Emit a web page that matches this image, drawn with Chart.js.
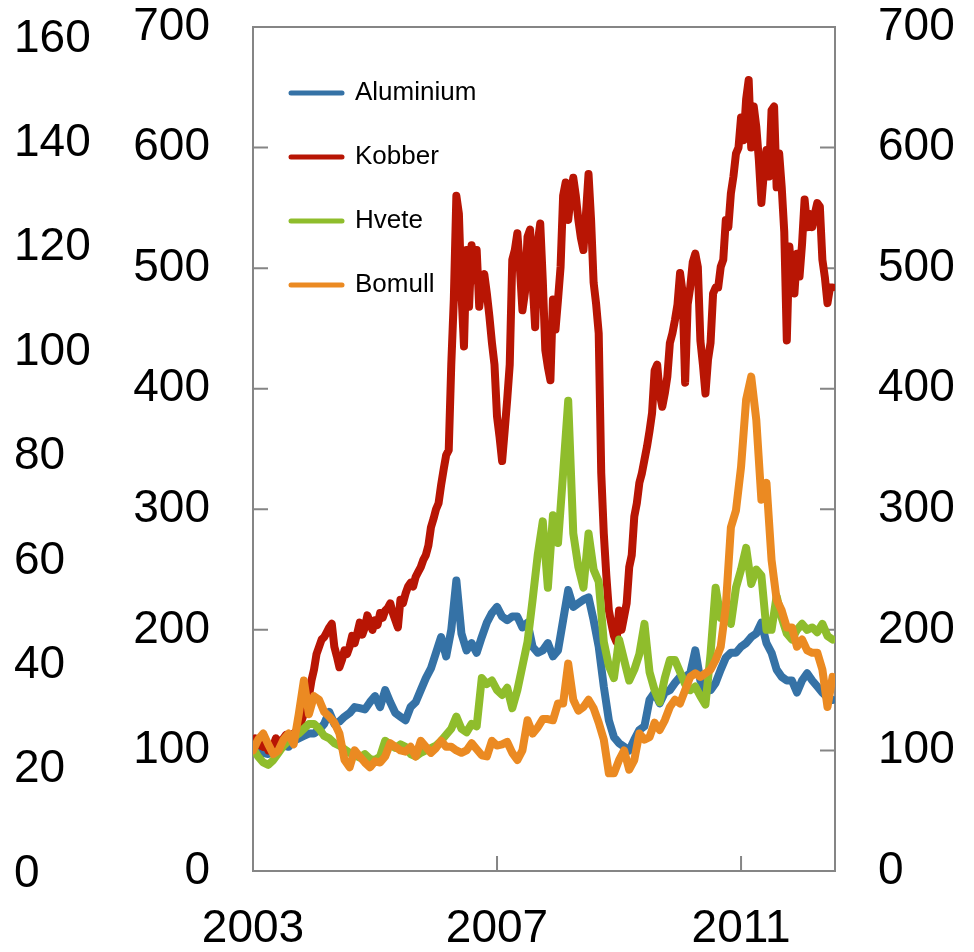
<!DOCTYPE html>
<html>
<head>
<meta charset="utf-8">
<script src="https://cdn.jsdelivr.net/npm/chart.js@4.4.0/dist/chart.umd.min.js"></script>
<style>
html,body{margin:0;padding:0;background:#fff;}
#wrap{width:974px;height:952px;position:relative;}
</style>
</head>
<body>
<div id="wrap"><canvas id="c" width="974" height="952"></canvas></div>
<script>
// ---- data (index, Jan 2003 = 100) ----
const startYear = 2003;
const xMax = 2012.54;
const yearTicks = [2003, 2007, 2011];
const indexTicks = [0, 100, 200, 300, 400, 500, 600, 700];
const outerTicks = [0, 20, 40, 60, 80, 100, 120, 140, 160];
const seriesNames = ['Aluminium', 'Kobber', 'Hvete', 'Bomull'];

// monthly observations
const aluminium = [
100,103,98,97,100,103,104,103,108,110,112,114,
114,117,122,132,122,124,128,131,136,135,134,140,
145,136,150,140,131,128,125,136,140,150,160,168,
181,194,178,200,241,197,183,189,181,194,206,214,
219,211,208,211,211,202,206,186,181,183,189,178,
183,208,233,219,222,225,227,208,186,153,125,111,
106,103,100,109,117,120,142,148,139,148,150,156,
161,161,164,183,158,150,150,156,167,177,181,181,
186,189,194,197,206,189,181,167,161,158,158,148,
158,164,158,153,148,144,142];

// half-monthly observations
const kobber = [
105,110,108,104,103,106,100,104,104,110,108,106,110,113,112,110,114,116,120,124,130,136,145,158,
167,180,186,192,194,198,202,205,186,178,169,175,183,180,186,195,189,197,206,196,202,212,206,200,
208,204,214,210,216,218,222,214,208,202,225,222,230,236,239,236,244,248,252,258,262,270,285,292,
300,305,320,333,345,349,420,474,560,545,480,435,515,468,519,490,515,468,488,495,479,460,438,420,
377,360,340,365,391,420,507,515,529,500,465,480,526,532,488,451,521,537,490,432,418,407,474,449,
474,501,560,571,540,560,575,560,540,525,515,545,578,540,488,470,446,330,280,245,216,205,195,190,
216,200,211,222,252,262,294,305,322,330,341,352,365,380,415,420,396,385,396,410,438,446,457,470,
496,480,405,470,484,505,512,501,440,420,396,424,438,479,484,484,501,507,540,534,562,576,595,600,
625,606,640,656,600,634,617,590,554,580,598,576,631,634,567,595,567,530,440,518,493,479,512,493,
520,557,534,545,534,545,554,551,507,492,471,484,484];

// monthly observations
const hvete = [
102,95,90,88,92,98,104,108,111,114,118,122,
122,118,112,110,106,104,101,98,96,94,97,93,
92,95,108,105,102,105,103,97,95,98,100,102,
104,108,113,118,128,118,115,122,120,160,155,158,
150,146,152,135,150,170,190,225,262,290,235,295,
272,330,390,280,252,235,280,250,240,190,170,160,
192,175,158,167,180,205,165,150,140,160,175,175,
165,155,150,153,145,138,180,235,210,218,205,235,
250,268,238,250,245,200,200,228,210,197,192,200,
205,200,202,198,205,195,192];

// monthly observations
const bomull = [
100,109,114,105,97,100,109,114,105,130,158,130,
145,142,132,128,123,114,92,86,100,95,90,86,
91,90,95,106,103,100,99,103,95,108,103,98,
102,108,103,103,100,98,100,106,101,96,95,108,
104,105,107,98,92,100,125,114,119,126,126,125,
139,139,172,142,133,136,142,135,123,109,81,81,
92,100,84,92,114,109,111,123,117,125,136,142,
139,150,161,164,161,164,167,175,186,219,285,299,
335,391,410,374,308,322,258,225,216,202,202,186,
192,183,181,181,167,136,161];

const monthDates = aluminium.map((_, i) => startYear + i / 12);
const halfMonthDates = kobber.map((_, i) => startYear + i / 24);

const colors = ['#3572A6', '#B81504', '#8FBD2C', '#EB8A22'];
const drawOrder = [3, 2, 1, 0];
const allSeries = [aluminium, kobber, hvete, bomull];
const allDates = [monthDates, halfMonthDates, monthDates, monthDates];

const FONT = "'Liberation Sans', Arial, Helvetica, sans-serif";
const tickFont = { family: FONT, size: 46, lineHeight: 1 };

const datasets = seriesNames.map((name, k) => ({
  label: name,
  data: allSeries[k].map((v, i) => ({ x: allDates[k][i], y: v })),
  borderColor: colors[k],
  backgroundColor: colors[k],
  borderWidth: 8,
  borderCapStyle: 'round',
  borderJoinStyle: 'round',
  pointRadius: 0,
  tension: 0,
  order: drawOrder[k],
  yAxisID: 'y'
}));

const frame = {
  id: 'frame',
  beforeDatasetsDraw(chart) {
    const { ctx, chartArea: a, scales } = chart;
    ctx.save();
    ctx.strokeStyle = '#858585';
    ctx.lineWidth = 2;
    ctx.strokeRect(a.left, a.top, a.right - a.left, a.bottom - a.top);
    ctx.beginPath();
    scales.y.ticks.forEach(t => {
      const p = scales.y.getPixelForValue(t.value);
      ctx.moveTo(a.left, p); ctx.lineTo(a.left + 15, p);
    });
    scales.yR.ticks.forEach(t => {
      const p = scales.yR.getPixelForValue(t.value);
      ctx.moveTo(a.right, p); ctx.lineTo(a.right - 15, p);
    });
    scales.x.ticks.forEach(t => {
      if (t.value > scales.x.min) {
        const p = scales.x.getPixelForValue(t.value);
        ctx.moveTo(p, a.bottom); ctx.lineTo(p, a.bottom - 15);
      }
    });
    ctx.stroke();
    ctx.restore();
  }
};

new Chart(document.getElementById('c'), {
  type: 'line',
  data: { datasets },
  plugins: [frame],
  options: {
    responsive: false,
    devicePixelRatio: 1,
    animation: false,
    layout: { padding: { top: 27, left: 14, right: 0, bottom: 0 } },
    plugins: {
      tooltip: { enabled: false },
      title: { display: false },
      legend: {
        display: true,
        position: 'chartArea',
        align: 'start',
        title: { display: true, text: ' ', font: { size: 10, lineHeight: 1 }, padding: { top: 0, bottom: 32 } },
        labels: {
          usePointStyle: true,
          pointStyle: 'line',
          pointStyleWidth: 51,
          padding: 38,
          color: '#000',
          font: { family: FONT, size: 26 },
          sort: (a, b) => a.datasetIndex - b.datasetIndex,
          generateLabels: chart => Chart.defaults.plugins.legend.labels.generateLabels(chart)
            .map(item => Object.assign(item, { lineWidth: 5, lineCap: 'round' }))
        }
      }
    },
    scales: {
      x: {
        type: 'linear',
        min: startYear,
        max: xMax,
        grid: { display: false, drawTicks: true, tickLength: 35 },
        border: { display: false },
        afterBuildTicks: s => { s.ticks = yearTicks.map(v => ({ value: v })); },
        afterFit: s => { s.height = 81; },
        ticks: {
          padding: 0, autoSkip: false, maxRotation: 0, color: '#000', font: tickFont,
          callback: v => String(v)
        }
      },
      yL: {
        type: 'linear',
        position: 'left',
        weight: 10,
        min: 0.575,
        max: 162.3,
        grid: { display: false, drawTicks: false },
        border: { display: false },
        afterBuildTicks: s => { s.ticks = outerTicks.map(v => ({ value: v })); },
        afterFit: s => { s.width = 100; },
        ticks: { padding: 0, autoSkip: false, crossAlign: 'far', color: '#000', font: tickFont }
      },
      y: {
        type: 'linear',
        position: 'left',
        weight: 0,
        min: 0,
        max: 700,
        grid: { display: false, drawTicks: true, tickLength: 43 },
        border: { display: false },
        afterBuildTicks: s => { s.ticks = indexTicks.map(v => ({ value: v })); },
        afterFit: s => { s.width = 139; },
        ticks: { padding: 0, autoSkip: false, color: '#000', font: tickFont }
      },
      yR: {
        type: 'linear',
        position: 'right',
        min: 0,
        max: 700,
        grid: { display: false, drawTicks: true, tickLength: 43 },
        border: { display: false },
        afterBuildTicks: s => { s.ticks = indexTicks.map(v => ({ value: v })); },
        afterFit: s => { s.width = 139; },
        ticks: { padding: 0, autoSkip: false, color: '#000', font: tickFont }
      }
    }
  }
});
</script>
</body>
</html>
